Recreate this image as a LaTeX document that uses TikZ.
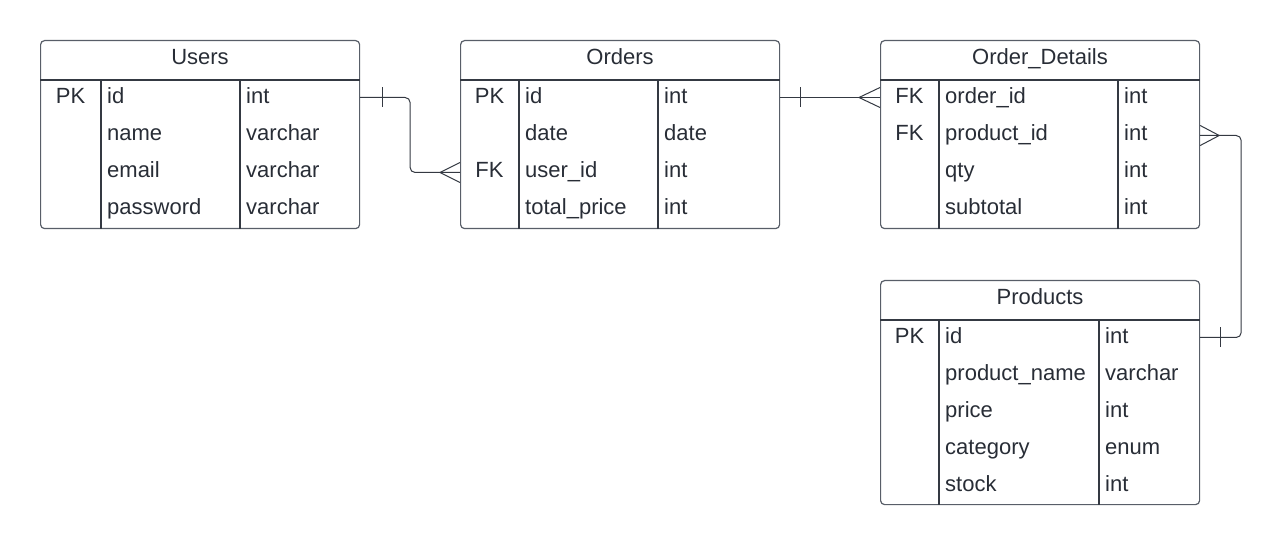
\documentclass[tikz,border=0pt]{standalone}
\usepackage{fontspec}
\setmainfont{Liberation Sans}
\usepackage{xcolor}
\definecolor{erbox}{RGB}{88,94,104}
\definecolor{erline}{RGB}{52,57,66}
\definecolor{ertext}{RGB}{40,45,54}
\usetikzlibrary{calc}
\tikzset{
  tbl/.style={draw=erbox,line width=1.2pt,rounded corners=4pt,minimum width=319pt,anchor=north west,inner sep=0pt},
  sep/.style={draw=erline,line width=1.2pt},
  rel/.style={draw=erline,line width=1pt,rounded corners=5pt},
  tick/.style={draw=erline,line width=1pt},
  title/.style={anchor=base,inner sep=0pt,text=ertext,font=\fontsize{22}{26}\selectfont},
  fld/.style={anchor=base west,inner sep=0pt,text=ertext,font=\fontsize{22}{26}\selectfont},
  key/.style={anchor=base,inner sep=0pt,text=ertext,font=\fontsize{22}{26}\selectfont},
}

\begin{document}
\begin{tikzpicture}[x=1pt,y=-1pt]
\useasboundingbox (0,0) rectangle (1280,545);
% tables
\node[tbl,minimum height=188pt] (users) at (40,40) {};
\node[tbl,minimum height=188pt] (orders) at (460,40) {};
\node[tbl,minimum height=188pt] (details) at (880,40) {};
\node[tbl,minimum height=224pt] (products) at (880,280) {};
\draw[sep] (users.west |- 0,80) -- (users.east |- 0,80);
\draw[sep] (101,80) -- (users.south -| 101,0);
\draw[sep] (240,80) -- (users.south -| 240,0);
\draw[sep] (orders.west |- 0,80) -- (orders.east |- 0,80);
\draw[sep] (519,80) -- (orders.south -| 519,0);
\draw[sep] (658,80) -- (orders.south -| 658,0);
\draw[sep] (details.west |- 0,80) -- (details.east |- 0,80);
\draw[sep] (939,80) -- (details.south -| 939,0);
\draw[sep] (1118,80) -- (details.south -| 1118,0);
\draw[sep] (products.west |- 0,320) -- (products.east |- 0,320);
\draw[sep] (939,320) -- (products.south -| 939,0);
\draw[sep] (1099,320) -- (products.south -| 1099,0);
% Users
\node[title] (ut) at (200,64.5) {Users};
\node[key] (uk1) at (70.5,103.5) {PK};
\node[fld] (un1) at (107,103.5) {id};
\node[fld] (un2) at (107,140.5) {name};
\node[fld] (un3) at (107,177.5) {email};
\node[fld] (un4) at (107,214.5) {password};
\node[fld] (uy1) at (246,103.5) {int};
\node[fld] (uy2) at (246,140.5) {varchar};
\node[fld] (uy3) at (246,177.5) {varchar};
\node[fld] (uy4) at (246,214.5) {varchar};
% Orders
\node[title] (ot) at (620,64.5) {Orders};
\node[key] (ok1) at (489.5,103.5) {PK};
\node[key] (ok3) at (489.5,177.5) {FK};
\node[fld] (on1) at (525,103.5) {id};
\node[fld] (on2) at (525,140.5) {date};
\node[fld] (on3) at (525,177.5) {user\_id};
\node[fld] (on4) at (525,214.5) {total\_price};
\node[fld] (oy1) at (664,103.5) {int};
\node[fld] (oy2) at (664,140.5) {date};
\node[fld] (oy3) at (664,177.5) {int};
\node[fld] (oy4) at (664,214.5) {int};
% Order_Details
\node[title] (dt) at (1040,64.5) {Order\_Details};
\node[key] (dk1) at (909.5,103.5) {FK};
\node[key] (dk2) at (909.5,140.5) {FK};
\node[fld] (dn1) at (945,103.5) {order\_id};
\node[fld] (dn2) at (945,140.5) {product\_id};
\node[fld] (dn3) at (945,177.5) {qty};
\node[fld] (dn4) at (945,214.5) {subtotal};
\node[fld] (dy1) at (1124,103.5) {int};
\node[fld] (dy2) at (1124,140.5) {int};
\node[fld] (dy3) at (1124,177.5) {int};
\node[fld] (dy4) at (1124,214.5) {int};
% Products
\node[title] (pt) at (1040,304.5) {Products};
\node[key] (pk1) at (909.5,343.5) {PK};
\node[fld] (pn1) at (945,343.5) {id};
\node[fld] (pn2) at (945,380.5) {product\_name};
\node[fld] (pn3) at (945,417.5) {price};
\node[fld] (pn4) at (945,454.5) {category};
\node[fld] (pn5) at (945,491.5) {stock};
\node[fld] (py1) at (1105,343.5) {int};
\node[fld] (py2) at (1105,380.5) {varchar};
\node[fld] (py3) at (1105,417.5) {int};
\node[fld] (py4) at (1105,454.5) {enum};
\node[fld] (py5) at (1105,491.5) {int};
% relations
\coordinate (users-id) at (users.east |- 0,97.5);
\coordinate (orders-uid) at (orders.west |- 0,172.5);
\coordinate (orders-id) at (orders.east |- 0,97.5);
\coordinate (details-oid) at (details.west |- 0,97.5);
\coordinate (details-pid) at (details.east |- 0,135.5);
\coordinate (products-id) at (products.east |- 0,337.5);
\draw[rel] (users-id) -| ($(users-id)!.5!(orders-uid)$) |- (orders-uid);
\draw[rel] (orders-id) -- (details-oid);
\draw[rel] (details-pid) -- ++(41,0) |- (products-id);
% one
\draw[tick] (users-id) ++(22,-10) -- ++(0,20);
\draw[tick] (orders-id) ++(20,-10) -- ++(0,20);
\draw[tick] (products-id) ++(20,-10) -- ++(0,20);
% many
\draw[tick] (orders-uid) ++(0,-10) -- ++(-20,10) -- ++(20,10);
\draw[tick] (details-oid) ++(0,-10) -- ++(-21,10) -- ++(21,10);
\draw[tick] (details-pid) ++(0,-10) -- ++(19,10) -- ++(-19,10);
\end{tikzpicture}
\end{document}
